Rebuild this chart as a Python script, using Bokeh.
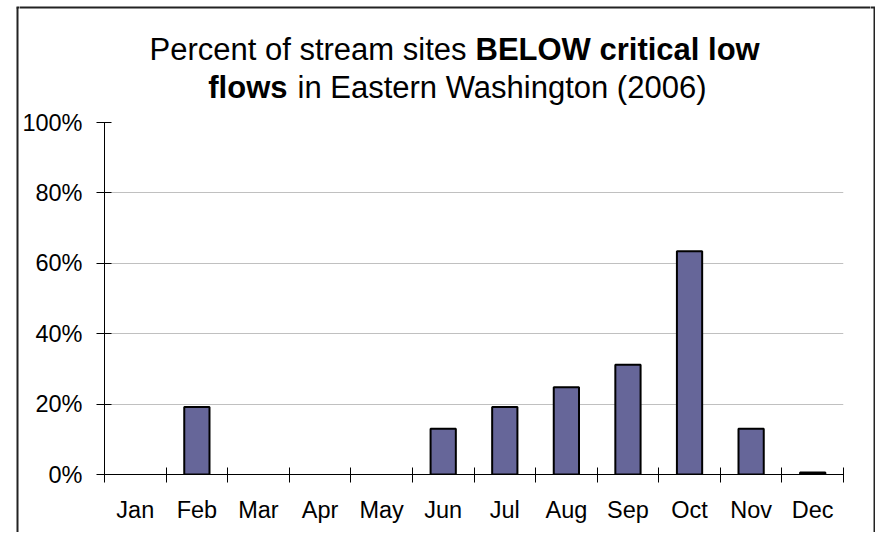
from bokeh.plotting import figure
from bokeh.layouts import column, row
from bokeh.models import Range1d, FixedTicker, CustomJSTickFormatter, ColumnDataSource, CDSView, BooleanFilter
from bokeh.core.properties import value
from bokeh.embed import file_html
from bokeh.resources import INLINE

# ---- data ----
months = ["Jan", "Feb", "Mar", "Apr", "May", "Jun", "Jul", "Aug", "Sep", "Oct", "Nov", "Dec"]
pct_below = [0, 19.2, 0, 0, 0, 13.0, 19.2, 24.8, 31.2, 63.4, 13.0, 0.6]
y_ticks = [0, 20, 40, 60, 80, 100]
title_line1 = ["Percent of stream sites", "BELOW critical low"]
title_line2 = ["flows", "in Eastern Washington (2006)"]

FONT = "Liberation Sans"
BORDER = "#222222"

# ---- layout (page pixels; Bokeh page has no margin) ----
TOTAL_W, TOTAL_H = 875, 532
LEFT_W, RIGHT_W = 19, 5
MID_W = TOTAL_W - LEFT_W - RIGHT_W
TITLE_H = 106
MAIN_H = TOTAL_H - TITLE_H
FRAME_L, FRAME_R, FRAME_T, FRAME_B = 104, 843, 122, 474
BOX_L, BOX_T, BOX_R = 17, 7, 874
MID_X0 = LEFT_W


def blank(width, height, xr, yr):
    f = figure(width=width, height=height, output_backend="svg", toolbar_location=None,
               x_range=Range1d(*xr), y_range=Range1d(*yr),
               x_axis_type=None, y_axis_type=None,
               min_border=0, min_border_left=0, min_border_right=0,
               min_border_top=0, min_border_bottom=0)
    f.outline_line_color = None
    f.background_fill_color = "white"
    f.border_fill_color = "white"
    f.xgrid.visible = False
    f.ygrid.visible = False
    return f


# ---- side strips carrying the chart border (data units == page pixels, y down) ----
ls = blank(LEFT_W, TOTAL_H, (0, LEFT_W), (TOTAL_H, 0))
ls.segment(x0=[BOX_L, BOX_L - 1], y0=[BOX_T, BOX_T], x1=[BOX_L, LEFT_W + 1], y1=[TOTAL_H + 2, BOX_T],
           line_color=BORDER, line_width=2)
rx0 = TOTAL_W - RIGHT_W
rs = blank(RIGHT_W, TOTAL_H, (rx0, TOTAL_W), (TOTAL_H, 0))
rs.segment(x0=[BOX_R, rx0 - 1], y0=[BOX_T, BOX_T], x1=[BOX_R, BOX_R + 1], y1=[TOTAL_H + 2, BOX_T],
           line_color=BORDER, line_width=2)

# ---- title strip ----
t = blank(MID_W, TITLE_H, (MID_X0, MID_X0 + MID_W), (TITLE_H, 0))
t.segment(x0=[MID_X0 - 1], y0=[BOX_T], x1=[MID_X0 + MID_W + 1], y1=[BOX_T],
          line_color=BORDER, line_width=2)
MID_OFF = 11  # baseline -> middle of text
base1, base2 = 59.5, 98
for x, y, txt, align, style in [
    (466, base1, title_line1[0], "right", "normal"),
    (475, base1, title_line1[1], "left", "bold"),
    (287, base2, title_line2[0], "right", "bold"),
    (297, base2, title_line2[1], "left", "normal"),
]:
    t.text(x=[x], y=[y - MID_OFF], text=[txt], text_align=align, text_baseline="middle",
           text_font=value(FONT), text_font_size=value("31px"), text_color="black",
           text_font_style=style)

# ---- main chart ----
xs = [i + 0.5 for i in range(len(months))]
src = ColumnDataSource(dict(x=xs, top=pct_below, month=months))
nonzero = CDSView(filter=BooleanFilter([v > 0 for v in pct_below]))

p = figure(width=MID_W, height=MAIN_H, output_backend="svg", toolbar_location=None,
           x_range=Range1d(0, len(months)), y_range=Range1d(0, 100),
           min_border_left=FRAME_L - MID_X0,
           min_border_right=(MID_X0 + MID_W) - FRAME_R,
           min_border_top=FRAME_T - TITLE_H,
           min_border_bottom=TOTAL_H - FRAME_B)
p.background_fill_color = "white"
p.border_fill_color = "white"
p.outline_line_color = None

p.vbar(x="x", top="top", width=0.41, bottom=0, source=src, view=nonzero,
       fill_color="#666699", line_color="black", line_width=2)

xa = p.xaxis[0]
xa.ticker = FixedTicker(ticks=xs, minor_ticks=list(range(len(months) + 1)))
xa.formatter = CustomJSTickFormatter(args=dict(labels=months),
                                     code="return labels[Math.round(tick - 0.5)] || '';")
xa.major_tick_line_color = None
xa.major_tick_in = 0
xa.major_tick_out = 0
xa.minor_tick_line_color = "black"
xa.minor_tick_in = 7
xa.minor_tick_out = 8
xa.axis_line_color = "black"
xa.major_label_standoff = 14
xa.major_label_text_font = FONT
xa.major_label_text_font_size = "23.5px"
xa.major_label_text_color = "black"

ya = p.yaxis[0]
ya.ticker = FixedTicker(ticks=y_ticks)
ya.formatter = CustomJSTickFormatter(code="return tick.toFixed(0) + '%';")
ya.major_tick_in = 7
ya.major_tick_out = 8
ya.minor_tick_line_color = None
ya.major_tick_line_color = "black"
ya.axis_line_color = "black"
ya.major_label_standoff = 14
ya.major_label_text_font = FONT
ya.major_label_text_font_size = "23.5px"
ya.major_label_text_color = "black"

p.xgrid.grid_line_color = None
p.ygrid.grid_line_color = "#c0c0c0"
p.ygrid.grid_line_width = 1

layout = row(ls, column(t, row(p, spacing=0), spacing=0), rs, spacing=0)

open("out.html", "w").write(file_html(layout, INLINE))
